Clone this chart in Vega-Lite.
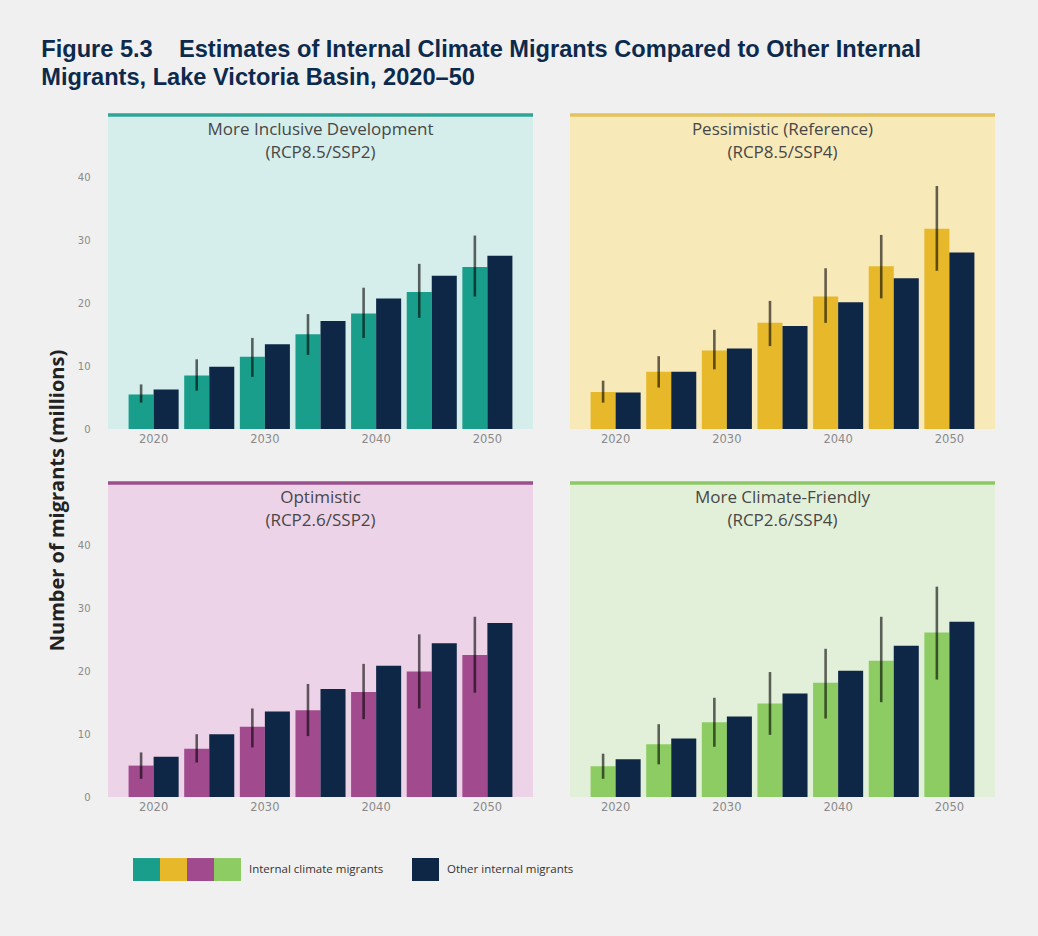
{
  "$schema": "https://vega.github.io/schema/vega-lite/v6.json",
  "background": "#f0f0f0",
  "padding": {"left": 41, "top": 37, "right": 43, "bottom": 56},
  "autosize": {"type": "pad"},
  "title": {
    "text": ["Figure 5.3\u00a0\u00a0\u00a0\u00a0Estimates of Internal Climate Migrants Compared to Other Internal", "Migrants, Lake Victoria Basin, 2020–50"],
    "anchor": "start",
    "font": "Liberation Sans",
    "fontSize": 23.6,
    "fontWeight": "bold",
    "color": "#0c2a4d",
    "lineHeight": 28,
    "baseline": "bottom",
    "offset": 0,
    "dx": -6
  },
  "datasets": {
    "migrants": [
      {"scenario": "More Inclusive Development", "year": 2020, "series": "Internal climate migrants", "value": 5.5, "lo": 4.2, "hi": 7.1},
      {"scenario": "More Inclusive Development", "year": 2025, "series": "Internal climate migrants", "value": 8.5, "lo": 6.1, "hi": 11.1},
      {"scenario": "More Inclusive Development", "year": 2030, "series": "Internal climate migrants", "value": 11.5, "lo": 8.3, "hi": 14.5},
      {"scenario": "More Inclusive Development", "year": 2035, "series": "Internal climate migrants", "value": 15.1, "lo": 11.8, "hi": 18.3},
      {"scenario": "More Inclusive Development", "year": 2040, "series": "Internal climate migrants", "value": 18.4, "lo": 14.5, "hi": 22.5},
      {"scenario": "More Inclusive Development", "year": 2045, "series": "Internal climate migrants", "value": 21.8, "lo": 17.7, "hi": 26.3},
      {"scenario": "More Inclusive Development", "year": 2050, "series": "Internal climate migrants", "value": 25.8, "lo": 21.1, "hi": 30.8},
      {"scenario": "More Inclusive Development", "year": 2020, "series": "Other internal migrants", "value": 6.3},
      {"scenario": "More Inclusive Development", "year": 2025, "series": "Other internal migrants", "value": 9.9},
      {"scenario": "More Inclusive Development", "year": 2030, "series": "Other internal migrants", "value": 13.5},
      {"scenario": "More Inclusive Development", "year": 2035, "series": "Other internal migrants", "value": 17.2},
      {"scenario": "More Inclusive Development", "year": 2040, "series": "Other internal migrants", "value": 20.8},
      {"scenario": "More Inclusive Development", "year": 2045, "series": "Other internal migrants", "value": 24.4},
      {"scenario": "More Inclusive Development", "year": 2050, "series": "Other internal migrants", "value": 27.6},

      {"scenario": "Pessimistic (Reference)", "year": 2020, "series": "Internal climate migrants", "value": 5.9, "lo": 4.2, "hi": 7.7},
      {"scenario": "Pessimistic (Reference)", "year": 2025, "series": "Internal climate migrants", "value": 9.1, "lo": 6.6, "hi": 11.6},
      {"scenario": "Pessimistic (Reference)", "year": 2030, "series": "Internal climate migrants", "value": 12.5, "lo": 9.5, "hi": 15.8},
      {"scenario": "Pessimistic (Reference)", "year": 2035, "series": "Internal climate migrants", "value": 16.9, "lo": 13.2, "hi": 20.4},
      {"scenario": "Pessimistic (Reference)", "year": 2040, "series": "Internal climate migrants", "value": 21.1, "lo": 16.9, "hi": 25.6},
      {"scenario": "Pessimistic (Reference)", "year": 2045, "series": "Internal climate migrants", "value": 25.9, "lo": 20.8, "hi": 30.9},
      {"scenario": "Pessimistic (Reference)", "year": 2050, "series": "Internal climate migrants", "value": 31.9, "lo": 25.2, "hi": 38.7},
      {"scenario": "Pessimistic (Reference)", "year": 2020, "series": "Other internal migrants", "value": 5.8},
      {"scenario": "Pessimistic (Reference)", "year": 2025, "series": "Other internal migrants", "value": 9.1},
      {"scenario": "Pessimistic (Reference)", "year": 2030, "series": "Other internal migrants", "value": 12.8},
      {"scenario": "Pessimistic (Reference)", "year": 2035, "series": "Other internal migrants", "value": 16.4},
      {"scenario": "Pessimistic (Reference)", "year": 2040, "series": "Other internal migrants", "value": 20.2},
      {"scenario": "Pessimistic (Reference)", "year": 2045, "series": "Other internal migrants", "value": 24.0},
      {"scenario": "Pessimistic (Reference)", "year": 2050, "series": "Other internal migrants", "value": 28.1},

      {"scenario": "Optimistic", "year": 2020, "series": "Internal climate migrants", "value": 5.0, "lo": 2.9, "hi": 7.1},
      {"scenario": "Optimistic", "year": 2025, "series": "Internal climate migrants", "value": 7.7, "lo": 5.5, "hi": 10.0},
      {"scenario": "Optimistic", "year": 2030, "series": "Internal climate migrants", "value": 11.2, "lo": 7.9, "hi": 14.1},
      {"scenario": "Optimistic", "year": 2035, "series": "Internal climate migrants", "value": 13.8, "lo": 9.7, "hi": 18.0},
      {"scenario": "Optimistic", "year": 2040, "series": "Internal climate migrants", "value": 16.7, "lo": 12.4, "hi": 21.2},
      {"scenario": "Optimistic", "year": 2045, "series": "Internal climate migrants", "value": 20.0, "lo": 14.1, "hi": 25.9},
      {"scenario": "Optimistic", "year": 2050, "series": "Internal climate migrants", "value": 22.6, "lo": 16.6, "hi": 28.7},
      {"scenario": "Optimistic", "year": 2020, "series": "Other internal migrants", "value": 6.4},
      {"scenario": "Optimistic", "year": 2025, "series": "Other internal migrants", "value": 10.0},
      {"scenario": "Optimistic", "year": 2030, "series": "Other internal migrants", "value": 13.6},
      {"scenario": "Optimistic", "year": 2035, "series": "Other internal migrants", "value": 17.2},
      {"scenario": "Optimistic", "year": 2040, "series": "Other internal migrants", "value": 20.9},
      {"scenario": "Optimistic", "year": 2045, "series": "Other internal migrants", "value": 24.5},
      {"scenario": "Optimistic", "year": 2050, "series": "Other internal migrants", "value": 27.7},

      {"scenario": "More Climate-Friendly", "year": 2020, "series": "Internal climate migrants", "value": 4.9, "lo": 2.9, "hi": 6.9},
      {"scenario": "More Climate-Friendly", "year": 2025, "series": "Internal climate migrants", "value": 8.4, "lo": 5.2, "hi": 11.6},
      {"scenario": "More Climate-Friendly", "year": 2030, "series": "Internal climate migrants", "value": 11.9, "lo": 8.0, "hi": 15.8},
      {"scenario": "More Climate-Friendly", "year": 2035, "series": "Internal climate migrants", "value": 14.9, "lo": 9.9, "hi": 19.9},
      {"scenario": "More Climate-Friendly", "year": 2040, "series": "Internal climate migrants", "value": 18.2, "lo": 12.5, "hi": 23.6},
      {"scenario": "More Climate-Friendly", "year": 2045, "series": "Internal climate migrants", "value": 21.7, "lo": 15.1, "hi": 28.7},
      {"scenario": "More Climate-Friendly", "year": 2050, "series": "Internal climate migrants", "value": 26.2, "lo": 18.7, "hi": 33.5},
      {"scenario": "More Climate-Friendly", "year": 2020, "series": "Other internal migrants", "value": 6.0},
      {"scenario": "More Climate-Friendly", "year": 2025, "series": "Other internal migrants", "value": 9.3},
      {"scenario": "More Climate-Friendly", "year": 2030, "series": "Other internal migrants", "value": 12.8},
      {"scenario": "More Climate-Friendly", "year": 2035, "series": "Other internal migrants", "value": 16.5},
      {"scenario": "More Climate-Friendly", "year": 2040, "series": "Other internal migrants", "value": 20.1},
      {"scenario": "More Climate-Friendly", "year": 2045, "series": "Other internal migrants", "value": 24.1},
      {"scenario": "More Climate-Friendly", "year": 2050, "series": "Other internal migrants", "value": 27.9}
    ]
  },
  "data": {"name": "migrants"},
  "columns": 2,
  "bounds": "flush",
  "spacing": {"row": 54, "column": 37},
  "concat": [
    {
      "width": 425, "height": 314,
      "view": {"fill": "#d5eeeb", "stroke": null},
      "title": {"text": ["More Inclusive Development", "(RCP8.5/SSP2)"]},
      "transform": [{"filter": "datum.scenario == 'More Inclusive Development'"}],
      "layer": [
        {
          "transform": [{"filter": "datum.year == 2020 && datum.series == 'Other internal migrants'"}],
          "mark": {"type": "rule", "color": "#2fa598", "strokeWidth": 3.5},
          "encoding": {"y": {"datum": 50, "type": "quantitative", "scale": {"domain": [0, 50], "nice": false}}}
        },
        {
          "transform": [{"filter": "datum.series == 'Internal climate migrants'"}],
          "mark": {"type": "bar"},
          "encoding": {
            "x": {"field": "year", "type": "ordinal", "scale": {"paddingInner": 0.1, "paddingOuter": 0.37}, "axis": {"values": [2020, 2030, 2040, 2050], "title": null}},
            "xOffset": {"field": "series", "type": "nominal", "scale": {"domain": ["Internal climate migrants", "Other internal migrants"]}},
            "y": {"field": "value", "type": "quantitative", "scale": {"domain": [0, 50], "nice": false}, "axis": {"values": [0, 10, 20, 30, 40], "title": "Number of migrants (millions)", "titleY": 385, "titlePadding": 10, "titleFont": "Open Sans", "titleFontSize": 20, "titleFontWeight": "bold", "titleColor": "#222222"}},
            "color": {
              "field": "scenario", "type": "nominal",
              "scale": {"domain": ["More Inclusive Development", "Pessimistic (Reference)", "Optimistic", "More Climate-Friendly"], "range": ["#1a9e8c", "#e6b82a", "#a14a8e", "#8dcc62"]},
              "legend": {
                "orient": "none", "legendX": 25, "legendY": 741, "direction": "horizontal",
                "labelOffset": 0,
                "labelExpr": "datum.label == 'More Climate-Friendly' ? 'Internal climate migrants' : ''",
                "encode": {"labels": {"update": {"dx": {"signal": "datum.value == 'More Climate-Friendly' ? 8 : 0"}}}}
              }
            }
          }
        },
        {
          "transform": [{"filter": "datum.series == 'Other internal migrants'"}],
          "mark": {"type": "bar"},
          "encoding": {
            "x": {"field": "year", "type": "ordinal"},
            "xOffset": {"field": "series", "type": "nominal"},
            "y": {"field": "value", "type": "quantitative", "title": "Number of migrants (millions)"},
            "fill": {
              "field": "series", "type": "nominal",
              "scale": {"domain": ["Other internal migrants"], "range": ["#0f2747"]},
              "legend": {"orient": "none", "legendX": 304, "legendY": 741, "direction": "horizontal", "labelOffset": 8}
            }
          }
        },
        {
          "transform": [{"filter": "datum.series == 'Internal climate migrants'"}],
          "mark": {"type": "rule", "color": "#000000", "opacity": 0.6, "strokeWidth": 2.6},
          "encoding": {
            "x": {"field": "year", "type": "ordinal"},
            "xOffset": {"field": "series", "type": "nominal"},
            "y": {"field": "lo", "type": "quantitative", "title": "Number of migrants (millions)"},
            "y2": {"field": "hi"}
          }
        }
      ]
    },
    {
      "width": 425, "height": 314,
      "view": {"fill": "#f8e9b9", "stroke": null},
      "title": {"text": ["Pessimistic (Reference)", "(RCP8.5/SSP4)"]},
      "transform": [{"filter": "datum.scenario == 'Pessimistic (Reference)'"}],
      "layer": [
        {
          "transform": [{"filter": "datum.year == 2020 && datum.series == 'Other internal migrants'"}],
          "mark": {"type": "rule", "color": "#e2c35e", "strokeWidth": 3.5},
          "encoding": {"y": {"datum": 50, "type": "quantitative", "scale": {"domain": [0, 50], "nice": false}}}
        },
        {
          "transform": [{"filter": "datum.series == 'Internal climate migrants'"}],
          "mark": {"type": "bar"},
          "encoding": {
            "x": {"field": "year", "type": "ordinal", "scale": {"paddingInner": 0.1, "paddingOuter": 0.37}, "axis": {"values": [2020, 2030, 2040, 2050], "title": null}},
            "xOffset": {"field": "series", "type": "nominal", "scale": {"domain": ["Internal climate migrants", "Other internal migrants"]}},
            "y": {"field": "value", "type": "quantitative", "scale": {"domain": [0, 50], "nice": false}, "axis": {"values": [0, 10, 20, 30, 40], "title": null, "labels": false}},
            "color": {"field": "scenario", "type": "nominal", "scale": {"domain": ["More Inclusive Development", "Pessimistic (Reference)", "Optimistic", "More Climate-Friendly"], "range": ["#1a9e8c", "#e6b82a", "#a14a8e", "#8dcc62"]}}
          }
        },
        {
          "transform": [{"filter": "datum.series == 'Other internal migrants'"}],
          "mark": {"type": "bar"},
          "encoding": {
            "x": {"field": "year", "type": "ordinal"},
            "xOffset": {"field": "series", "type": "nominal"},
            "y": {"field": "value", "type": "quantitative", "title": null},
            "fill": {"field": "series", "type": "nominal", "scale": {"domain": ["Other internal migrants"], "range": ["#0f2747"]}}
          }
        },
        {
          "transform": [{"filter": "datum.series == 'Internal climate migrants'"}],
          "mark": {"type": "rule", "color": "#000000", "opacity": 0.6, "strokeWidth": 2.6},
          "encoding": {
            "x": {"field": "year", "type": "ordinal"},
            "xOffset": {"field": "series", "type": "nominal"},
            "y": {"field": "lo", "type": "quantitative", "title": null},
            "y2": {"field": "hi"}
          }
        }
      ]
    },
    {
      "width": 425, "height": 314,
      "view": {"fill": "#edd3e8", "stroke": null},
      "title": {"text": ["Optimistic", "(RCP2.6/SSP2)"]},
      "transform": [{"filter": "datum.scenario == 'Optimistic'"}],
      "layer": [
        {
          "transform": [{"filter": "datum.year == 2020 && datum.series == 'Other internal migrants'"}],
          "mark": {"type": "rule", "color": "#9a508d", "strokeWidth": 3.5},
          "encoding": {"y": {"datum": 50, "type": "quantitative", "scale": {"domain": [0, 50], "nice": false}}}
        },
        {
          "transform": [{"filter": "datum.series == 'Internal climate migrants'"}],
          "mark": {"type": "bar"},
          "encoding": {
            "x": {"field": "year", "type": "ordinal", "scale": {"paddingInner": 0.1, "paddingOuter": 0.37}, "axis": {"values": [2020, 2030, 2040, 2050], "title": null}},
            "xOffset": {"field": "series", "type": "nominal", "scale": {"domain": ["Internal climate migrants", "Other internal migrants"]}},
            "y": {"field": "value", "type": "quantitative", "scale": {"domain": [0, 50], "nice": false}, "axis": {"values": [0, 10, 20, 30, 40], "title": null}},
            "color": {"field": "scenario", "type": "nominal", "scale": {"domain": ["More Inclusive Development", "Pessimistic (Reference)", "Optimistic", "More Climate-Friendly"], "range": ["#1a9e8c", "#e6b82a", "#a14a8e", "#8dcc62"]}}
          }
        },
        {
          "transform": [{"filter": "datum.series == 'Other internal migrants'"}],
          "mark": {"type": "bar"},
          "encoding": {
            "x": {"field": "year", "type": "ordinal"},
            "xOffset": {"field": "series", "type": "nominal"},
            "y": {"field": "value", "type": "quantitative", "title": null},
            "fill": {"field": "series", "type": "nominal", "scale": {"domain": ["Other internal migrants"], "range": ["#0f2747"]}}
          }
        },
        {
          "transform": [{"filter": "datum.series == 'Internal climate migrants'"}],
          "mark": {"type": "rule", "color": "#000000", "opacity": 0.6, "strokeWidth": 2.6},
          "encoding": {
            "x": {"field": "year", "type": "ordinal"},
            "xOffset": {"field": "series", "type": "nominal"},
            "y": {"field": "lo", "type": "quantitative", "title": null},
            "y2": {"field": "hi"}
          }
        }
      ]
    },
    {
      "width": 425, "height": 314,
      "view": {"fill": "#e3f0d9", "stroke": null},
      "title": {"text": ["More Climate-Friendly", "(RCP2.6/SSP4)"]},
      "transform": [{"filter": "datum.scenario == 'More Climate-Friendly'"}],
      "layer": [
        {
          "transform": [{"filter": "datum.year == 2020 && datum.series == 'Other internal migrants'"}],
          "mark": {"type": "rule", "color": "#8cc964", "strokeWidth": 3.5},
          "encoding": {"y": {"datum": 50, "type": "quantitative", "scale": {"domain": [0, 50], "nice": false}}}
        },
        {
          "transform": [{"filter": "datum.series == 'Internal climate migrants'"}],
          "mark": {"type": "bar"},
          "encoding": {
            "x": {"field": "year", "type": "ordinal", "scale": {"paddingInner": 0.1, "paddingOuter": 0.37}, "axis": {"values": [2020, 2030, 2040, 2050], "title": null}},
            "xOffset": {"field": "series", "type": "nominal", "scale": {"domain": ["Internal climate migrants", "Other internal migrants"]}},
            "y": {"field": "value", "type": "quantitative", "scale": {"domain": [0, 50], "nice": false}, "axis": {"values": [0, 10, 20, 30, 40], "title": null, "labels": false}},
            "color": {"field": "scenario", "type": "nominal", "scale": {"domain": ["More Inclusive Development", "Pessimistic (Reference)", "Optimistic", "More Climate-Friendly"], "range": ["#1a9e8c", "#e6b82a", "#a14a8e", "#8dcc62"]}}
          }
        },
        {
          "transform": [{"filter": "datum.series == 'Other internal migrants'"}],
          "mark": {"type": "bar"},
          "encoding": {
            "x": {"field": "year", "type": "ordinal"},
            "xOffset": {"field": "series", "type": "nominal"},
            "y": {"field": "value", "type": "quantitative", "title": null},
            "fill": {"field": "series", "type": "nominal", "scale": {"domain": ["Other internal migrants"], "range": ["#0f2747"]}}
          }
        },
        {
          "transform": [{"filter": "datum.series == 'Internal climate migrants'"}],
          "mark": {"type": "rule", "color": "#000000", "opacity": 0.6, "strokeWidth": 2.6},
          "encoding": {
            "x": {"field": "year", "type": "ordinal"},
            "xOffset": {"field": "series", "type": "nominal"},
            "y": {"field": "lo", "type": "quantitative", "title": null},
            "y2": {"field": "hi"}
          }
        }
      ]
    }
  ],
  "resolve": {"scale": {"color": "shared", "fill": "shared"}, "legend": {"color": "shared", "fill": "shared"}},
  "config": {
    "view": {"stroke": null},
    "title": {
      "font": "Open Sans",
      "fontSize": 17,
      "fontWeight": "normal",
      "color": "#474747",
      "lineHeight": 23,
      "baseline": "top",
      "offset": -49,
      "anchor": "middle"
    },
    "axis": {
      "domain": false,
      "ticks": false,
      "tickSize": 0,
      "gridColor": "#707070",
      "gridOpacity": 0.38,
      "gridWidth": 1.5,
      "labelColor": "#8a8a8a",
      "labelFont": "DejaVu Sans"
    },
    "axisX": {"grid": false, "labelFontSize": 11.5, "labelPadding": 4, "labelAngle": 0},
    "axisY": {"labelFontSize": 10, "labelPadding": 18},
    "legend": {
      "title": null,
      "padding": 0,
      "columnPadding": 0,
      "rowPadding": 0,
      "symbolType": "M-1,-0.85H1V0.85H-1Z",
      "symbolSize": 729,
      "symbolStrokeWidth": 0,
      "symbolOpacity": 1,
      "labelFont": "Open Sans",
      "labelFontSize": 11.5,
      "labelColor": "#333333",
      "labelLimit": 0
    }
  }
}
